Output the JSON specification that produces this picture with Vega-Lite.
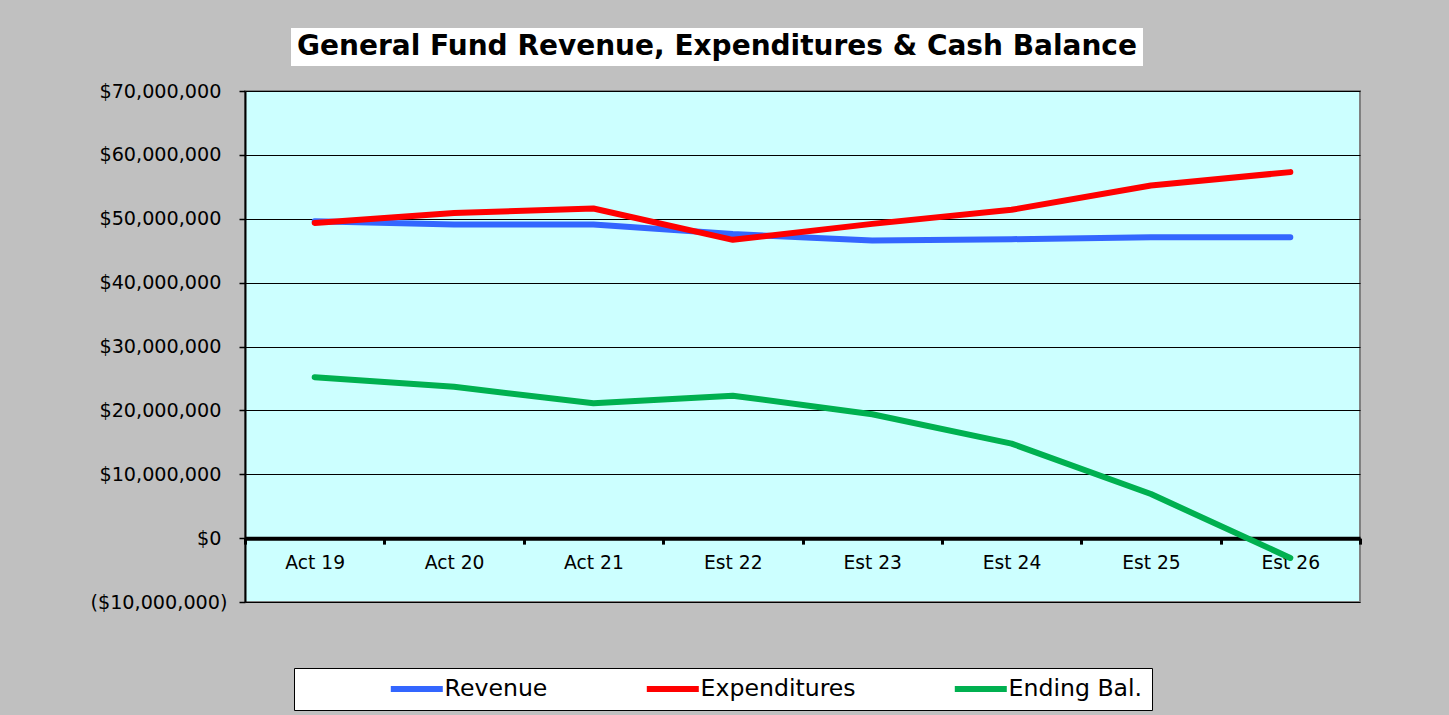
{
  "$schema": "https://vega.github.io/schema/vega-lite/v6.json",
  "background": "#c0c0c0",
  "padding": {"left": 88, "top": 28, "right": 86, "bottom": 4},
  "config": {"font": "DejaVu Sans"},
  "spacing": 15,
  "resolve": {"legend": {"color": "independent"}},
  "vconcat": [
    {
      "spacing": 0,
      "hconcat": [
        {
          "width": 46,
          "height": 38,
          "view": {"fill": null, "stroke": null},
          "data": {"values": []},
          "mark": "point",
          "encoding": {}
        },
        {
          "width": 852,
          "height": 38,
          "view": {"fill": "white", "stroke": null},
          "data": {"values": [{"title": "General Fund Revenue, Expenditures & Cash Balance"}]},
          "mark": {"type": "text", "font": "DejaVu Sans", "fontWeight": "bold", "fontSize": 28, "color": "black"},
          "encoding": {"text": {"field": "title"}}
        }
      ]
    },
    {
      "width": 1115,
      "height": 511,
      "view": {"fill": "#ccffff", "stroke": "#808080", "strokeWidth": 2},
      "data": {
        "values": [
          {"year": "Act 19", "series": "Revenue", "value": 49600000},
          {"year": "Act 20", "series": "Revenue", "value": 49100000},
          {"year": "Act 21", "series": "Revenue", "value": 49100000},
          {"year": "Est 22", "series": "Revenue", "value": 47600000},
          {"year": "Est 23", "series": "Revenue", "value": 46600000},
          {"year": "Est 24", "series": "Revenue", "value": 46800000},
          {"year": "Est 25", "series": "Revenue", "value": 47100000},
          {"year": "Est 26", "series": "Revenue", "value": 47100000},
          {"year": "Act 19", "series": "Expenditures", "value": 49350000},
          {"year": "Act 20", "series": "Expenditures", "value": 50900000},
          {"year": "Act 21", "series": "Expenditures", "value": 51600000},
          {"year": "Est 22", "series": "Expenditures", "value": 46700000},
          {"year": "Est 23", "series": "Expenditures", "value": 49200000},
          {"year": "Est 24", "series": "Expenditures", "value": 51400000},
          {"year": "Est 25", "series": "Expenditures", "value": 55200000},
          {"year": "Est 26", "series": "Expenditures", "value": 57300000},
          {"year": "Act 19", "series": "Ending Bal.", "value": 25200000},
          {"year": "Act 20", "series": "Ending Bal.", "value": 23700000},
          {"year": "Act 21", "series": "Ending Bal.", "value": 21100000},
          {"year": "Est 22", "series": "Ending Bal.", "value": 22300000},
          {"year": "Est 23", "series": "Ending Bal.", "value": 19400000},
          {"year": "Est 24", "series": "Ending Bal.", "value": 14800000},
          {"year": "Est 25", "series": "Ending Bal.", "value": 6900000},
          {"year": "Est 26", "series": "Ending Bal.", "value": -3100000}
        ]
      },
      "mark": {"type": "line", "strokeWidth": 6, "strokeCap": "round", "strokeJoin": "round"},
      "encoding": {
        "x": {
          "field": "year",
          "type": "nominal",
          "sort": ["Act 19", "Act 20", "Act 21", "Est 22", "Est 23", "Est 24", "Est 25", "Est 26"],
          "scale": {"type": "band", "paddingInner": 0, "paddingOuter": 0},
          "bandPosition": 0.5,
          "axis": {
            "title": null,
            "orient": "bottom",
            "offset": -63.875,
            "grid": false,
            "domainColor": "black",
            "domainWidth": 4,
            "tickColor": "black",
            "tickWidth": 3,
            "tickSize": 6,
            "tickBand": "extent",
            "labelAngle": 0,
            "labelFontSize": 18.7,
            "labelColor": "black",
            "labelPadding": 9
          }
        },
        "y": {
          "field": "value",
          "type": "quantitative",
          "scale": {"domain": [-10000000, 70000000], "nice": false, "zero": false},
          "axis": {
            "title": null,
            "values": [-10000000, 0, 10000000, 20000000, 30000000, 40000000, 50000000, 60000000, 70000000],
            "labelExpr": "datum.value < 0 ? '(' + format(-datum.value, '$,') + ')' : format(datum.value, '$,')",
            "grid": true,
            "gridColor": "black",
            "gridWidth": 1,
            "domainColor": "black",
            "domainWidth": 2,
            "tickColor": "black",
            "tickWidth": 1.5,
            "tickSize": 6,
            "labelFontSize": 19.2,
            "labelColor": "black",
            "labelPadding": {"condition": {"test": "datum.value < 0", "value": 12}, "value": 18}
          }
        },
        "color": {
          "field": "series",
          "type": "nominal",
          "scale": {"domain": ["Revenue", "Expenditures", "Ending Bal."], "range": ["#3366ff", "#ff0000", "#00b050"]},
          "legend": {
            "title": " ",
            "titleOrient": "left",
            "titleFontSize": 1,
            "titlePadding": 102,
            "orient": "none",
            "legendX": 49,
            "legendY": 577,
            "direction": "horizontal",
            "fillColor": "white",
            "strokeColor": "black",
            "padding": 9,
            "symbolType": "M-5.2,0H5.2",
            "symbolSize": 100,
            "symbolStrokeWidth": 6,
            "labelFontSize": 23.6,
            "labelColor": "black",
            "labelOffset": 16,
            "columnPadding": 86
          }
        }
      }
    }
  ]
}
